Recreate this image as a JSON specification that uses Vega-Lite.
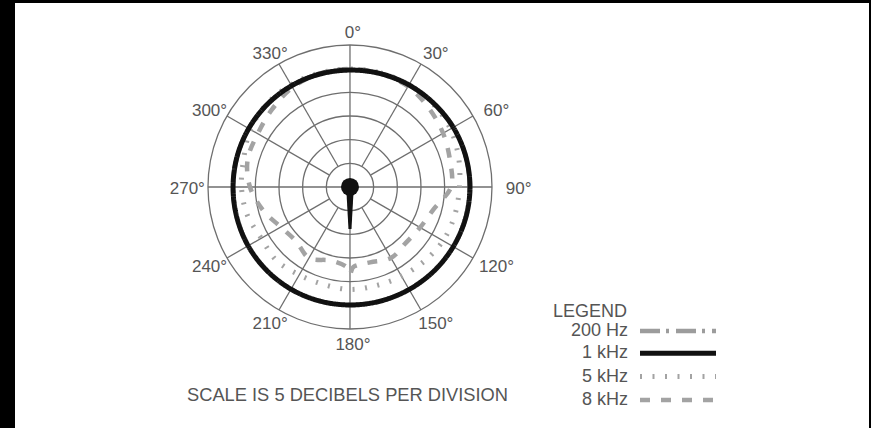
{
  "$schema": "https://vega.github.io/schema/vega-lite/v6.json",
  "width": 854,
  "height": 425,
  "autosize": {"type": "none"},
  "padding": {"left": 15, "top": 3, "right": 2, "bottom": 0},
  "background": "#000000",
  "config": {
    "view": {"fill": "#ffffff", "stroke": null},
    "font": "Liberation Sans",
    "legend": {
      "orient": "none",
      "legendX": 538,
      "legendY": 300,
      "direction": "vertical",
      "symbolType": "M-4,0H4",
      "symbolSize": 361,
      "symbolOffset": 113,
      "labelOffset": -62,
      "labelAlign": "right",
      "labelFont": "Liberation Sans",
      "labelFontSize": 18,
      "labelColor": "#555555",
      "labelLimit": 0,
      "titleFont": "Liberation Sans",
      "titleFontSize": 18,
      "titleFontWeight": "normal",
      "titleColor": "#555555",
      "titleAnchor": "start",
      "titlePadding": -2,
      "rowPadding": 1.3,
      "padding": 0,
      "offset": 0
    }
  },
  "title": {
    "text": "SCALE IS 5 DECIBELS PER DIVISION",
    "orient": "bottom",
    "anchor": "start",
    "frame": "group",
    "offset": -41,
    "dx": 172,
    "baseline": "top",
    "font": "Liberation Sans",
    "fontSize": 18.3,
    "fontWeight": "normal",
    "color": "#555555"
  },
  "datasets": {
    "rings": [{"db": -20}, {"db": -15}, {"db": -10}, {"db": -5}, {"db": 0}, {"db": 5}],
    "angles": [
      {"angle": 0, "label": "0°"}, {"angle": 30, "label": "30°"}, {"angle": 60, "label": "60°"},
      {"angle": 90, "label": "90°"}, {"angle": 120, "label": "120°"}, {"angle": 150, "label": "150°"},
      {"angle": 180, "label": "180°"}, {"angle": 210, "label": "210°"}, {"angle": 240, "label": "240°"},
      {"angle": 270, "label": "270°"}, {"angle": 300, "label": "300°"}, {"angle": 330, "label": "330°"}
    ],
    "patterns": [
      {"freq": "200 Hz", "angle": 0, "db": -0.3}, {"freq": "200 Hz", "angle": 15, "db": -0.2}, {"freq": "200 Hz", "angle": 30, "db": -0.1},
      {"freq": "200 Hz", "angle": 45, "db": 0}, {"freq": "200 Hz", "angle": 60, "db": 0.2}, {"freq": "200 Hz", "angle": 75, "db": 0.3},
      {"freq": "200 Hz", "angle": 90, "db": 0.35}, {"freq": "200 Hz", "angle": 105, "db": 0.3}, {"freq": "200 Hz", "angle": 120, "db": 0.2},
      {"freq": "200 Hz", "angle": 135, "db": 0.1}, {"freq": "200 Hz", "angle": 150, "db": 0}, {"freq": "200 Hz", "angle": 165, "db": -0.05},
      {"freq": "200 Hz", "angle": 180, "db": -0.07}, {"freq": "200 Hz", "angle": 195, "db": -0.07}, {"freq": "200 Hz", "angle": 210, "db": -0.07},
      {"freq": "200 Hz", "angle": 225, "db": -0.1}, {"freq": "200 Hz", "angle": 240, "db": -0.15}, {"freq": "200 Hz", "angle": 255, "db": -0.25},
      {"freq": "200 Hz", "angle": 270, "db": -0.3}, {"freq": "200 Hz", "angle": 285, "db": -0.3}, {"freq": "200 Hz", "angle": 300, "db": -0.3},
      {"freq": "200 Hz", "angle": 315, "db": -0.3}, {"freq": "200 Hz", "angle": 330, "db": -0.3}, {"freq": "200 Hz", "angle": 345, "db": -0.3},

      {"freq": "8 kHz", "angle": 0, "db": -0.07}, {"freq": "8 kHz", "angle": 15, "db": -0.18}, {"freq": "8 kHz", "angle": 30, "db": -0.49},
      {"freq": "8 kHz", "angle": 45, "db": -1.44}, {"freq": "8 kHz", "angle": 60, "db": -2.29}, {"freq": "8 kHz", "angle": 75, "db": -3.13},
      {"freq": "8 kHz", "angle": 90, "db": -3.66}, {"freq": "8 kHz", "angle": 105, "db": -6.73}, {"freq": "8 kHz", "angle": 120, "db": -7.89},
      {"freq": "8 kHz", "angle": 135, "db": -8.31}, {"freq": "8 kHz", "angle": 150, "db": -7.68}, {"freq": "8 kHz", "angle": 165, "db": -8.52},
      {"freq": "8 kHz", "angle": 177, "db": -8.2}, {"freq": "8 kHz", "angle": 180, "db": -6.62}, {"freq": "8 kHz", "angle": 183, "db": -8.2},
      {"freq": "8 kHz", "angle": 195, "db": -8.94}, {"freq": "8 kHz", "angle": 210, "db": -7.68}, {"freq": "8 kHz", "angle": 225, "db": -8.84},
      {"freq": "8 kHz", "angle": 240, "db": -8.1}, {"freq": "8 kHz", "angle": 255, "db": -5.99}, {"freq": "8 kHz", "angle": 270, "db": -3.87},
      {"freq": "8 kHz", "angle": 285, "db": -2.61}, {"freq": "8 kHz", "angle": 300, "db": -2.5}, {"freq": "8 kHz", "angle": 315, "db": -1.76},
      {"freq": "8 kHz", "angle": 330, "db": -0.7}, {"freq": "8 kHz", "angle": 345, "db": -0.18},

      {"freq": "5 kHz", "angle": 0, "db": -0.07}, {"freq": "5 kHz", "angle": 15, "db": -0.07}, {"freq": "5 kHz", "angle": 30, "db": -0.07},
      {"freq": "5 kHz", "angle": 45, "db": -0.18}, {"freq": "5 kHz", "angle": 60, "db": -0.49}, {"freq": "5 kHz", "angle": 75, "db": -1.23},
      {"freq": "5 kHz", "angle": 90, "db": -1.87}, {"freq": "5 kHz", "angle": 105, "db": -2.08}, {"freq": "5 kHz", "angle": 120, "db": -2.29},
      {"freq": "5 kHz", "angle": 135, "db": -2.82}, {"freq": "5 kHz", "angle": 150, "db": -3.24}, {"freq": "5 kHz", "angle": 165, "db": -3.45},
      {"freq": "5 kHz", "angle": 180, "db": -3.35}, {"freq": "5 kHz", "angle": 195, "db": -3.66}, {"freq": "5 kHz", "angle": 210, "db": -3.56},
      {"freq": "5 kHz", "angle": 225, "db": -3.03}, {"freq": "5 kHz", "angle": 240, "db": -3.35}, {"freq": "5 kHz", "angle": 255, "db": -2.5},
      {"freq": "5 kHz", "angle": 270, "db": -2.08}, {"freq": "5 kHz", "angle": 285, "db": -1.76}, {"freq": "5 kHz", "angle": 300, "db": -0.7},
      {"freq": "5 kHz", "angle": 315, "db": -0.18}, {"freq": "5 kHz", "angle": 330, "db": -0.07}, {"freq": "5 kHz", "angle": 345, "db": -0.07},

      {"freq": "1 kHz", "angle": 0, "db": -0.3}, {"freq": "1 kHz", "angle": 15, "db": -0.2}, {"freq": "1 kHz", "angle": 30, "db": -0.1},
      {"freq": "1 kHz", "angle": 45, "db": 0}, {"freq": "1 kHz", "angle": 60, "db": 0.2}, {"freq": "1 kHz", "angle": 75, "db": 0.3},
      {"freq": "1 kHz", "angle": 90, "db": 0.35}, {"freq": "1 kHz", "angle": 105, "db": 0.3}, {"freq": "1 kHz", "angle": 120, "db": 0.2},
      {"freq": "1 kHz", "angle": 135, "db": 0.1}, {"freq": "1 kHz", "angle": 150, "db": 0}, {"freq": "1 kHz", "angle": 165, "db": -0.05},
      {"freq": "1 kHz", "angle": 180, "db": -0.07}, {"freq": "1 kHz", "angle": 195, "db": -0.07}, {"freq": "1 kHz", "angle": 210, "db": -0.07},
      {"freq": "1 kHz", "angle": 225, "db": -0.1}, {"freq": "1 kHz", "angle": 240, "db": -0.15}, {"freq": "1 kHz", "angle": 255, "db": -0.25},
      {"freq": "1 kHz", "angle": 270, "db": -0.3}, {"freq": "1 kHz", "angle": 285, "db": -0.3}, {"freq": "1 kHz", "angle": 300, "db": -0.3},
      {"freq": "1 kHz", "angle": 315, "db": -0.3}, {"freq": "1 kHz", "angle": 330, "db": -0.3}, {"freq": "1 kHz", "angle": 345, "db": -0.3}
    ]
  },
  "layer": [
    {
      "data": {"name": "rings"},
      "transform": [{"calculate": "datum.db + 25", "as": "r"}],
      "mark": {"type": "point", "shape": "circle", "filled": false, "color": "#6e6e6e", "strokeWidth": 1.3, "opacity": 1},
      "encoding": {
        "x": {"datum": 0, "type": "quantitative", "scale": {"domain": [-70.77, 109.65], "nice": false, "zero": false}, "axis": null},
        "y": {"datum": 0, "type": "quantitative", "scale": {"domain": [-50.92, 38.87], "nice": false, "zero": false}, "axis": null},
        "size": {"field": "r", "type": "quantitative", "scale": {"type": "pow", "exponent": 2, "domain": [0, 30], "range": [0, 80656]}, "legend": null}
      }
    },
    {
      "data": {"name": "angles"},
      "transform": [
        {"calculate": "datum.angle % 90 == 0 ? 0 : 5", "as": "r0"},
        {"calculate": "datum.r0 * sin(datum.angle * PI / 180)", "as": "x0"},
        {"calculate": "datum.r0 * cos(datum.angle * PI / 180)", "as": "y0"},
        {"calculate": "30 * sin(datum.angle * PI / 180)", "as": "x1"},
        {"calculate": "30 * cos(datum.angle * PI / 180)", "as": "y1"}
      ],
      "mark": {"type": "rule", "color": "#6e6e6e", "strokeWidth": 1.3},
      "encoding": {
        "x": {"field": "x0", "type": "quantitative", "scale": {"domain": [-70.77, 109.65], "nice": false, "zero": false}, "axis": null},
        "y": {"field": "y0", "type": "quantitative", "scale": {"domain": [-50.92, 38.87], "nice": false, "zero": false}, "axis": null},
        "x2": {"field": "x1"},
        "y2": {"field": "y1"}
      }
    },
    {
      "data": {"name": "patterns"},
      "transform": [
        {"calculate": "datum.db + 25", "as": "r"},
        {"calculate": "datum.r * sin(datum.angle * PI / 180)", "as": "px"},
        {"calculate": "datum.r * cos(datum.angle * PI / 180)", "as": "py"}
      ],
      "mark": {"type": "line", "interpolate": "cardinal-closed", "strokeCap": "butt"},
      "encoding": {
        "x": {"field": "px", "type": "quantitative", "scale": {"domain": [-70.77, 109.65], "nice": false, "zero": false}, "axis": null},
        "y": {"field": "py", "type": "quantitative", "scale": {"domain": [-50.92, 38.87], "nice": false, "zero": false}, "axis": null},
        "order": {"field": "angle", "type": "quantitative"},
        "color": {
          "field": "freq", "type": "nominal",
          "scale": {"domain": ["200 Hz", "1 kHz", "5 kHz", "8 kHz"], "range": ["#9c9c9c", "#111111", "#a3a3a3", "#a3a3a3"]},
          "legend": {"title": "LEGEND"}
        },
        "strokeDash": {
          "field": "freq", "type": "nominal",
          "scale": {"domain": ["200 Hz", "1 kHz", "5 kHz", "8 kHz"], "range": [[20, 6, 3, 7], [1, 0], [2, 10.5], [10, 11]]}
        },
        "strokeWidth": {
          "field": "freq", "type": "nominal",
          "scale": {"type": "ordinal", "domain": ["200 Hz", "1 kHz", "5 kHz", "8 kHz"], "range": [4.5, 5, 5, 4.5]}
        }
      }
    },
    {
      "data": {"values": [{"part": "capsule"}]},
      "mark": {"type": "point", "shape": "circle", "filled": true, "color": "#111111", "size": 324, "opacity": 1},
      "encoding": {
        "x": {"datum": 0, "type": "quantitative", "scale": {"domain": [-70.77, 109.65], "nice": false, "zero": false}, "axis": null},
        "y": {"datum": 0, "type": "quantitative", "scale": {"domain": [-50.92, 38.87], "nice": false, "zero": false}, "axis": null}
      }
    },
    {
      "data": {"values": [{"part": "stem"}]},
      "mark": {"type": "point", "shape": "M-0.085,0.1L0.085,0.1L0.036,1L-0.036,1Z", "filled": true, "color": "#111111", "size": 7056, "opacity": 1},
      "encoding": {
        "x": {"datum": 0, "type": "quantitative", "scale": {"domain": [-70.77, 109.65], "nice": false, "zero": false}, "axis": null},
        "y": {"datum": 0, "type": "quantitative", "scale": {"domain": [-50.92, 38.87], "nice": false, "zero": false}, "axis": null}
      }
    },
    {
      "data": {"name": "angles"},
      "transform": [
        {"calculate": "35 * sin(datum.angle * PI / 180)", "as": "lx"},
        {"calculate": "32.9 * cos(datum.angle * PI / 180)", "as": "ly"}
      ],
      "mark": {"type": "text", "font": "Liberation Sans", "fontSize": 17, "color": "#555555", "align": "center", "baseline": "middle", "dx": 3, "dy": 2},
      "encoding": {
        "x": {"field": "lx", "type": "quantitative", "scale": {"domain": [-70.77, 109.65], "nice": false, "zero": false}, "axis": null},
        "y": {"field": "ly", "type": "quantitative", "scale": {"domain": [-50.92, 38.87], "nice": false, "zero": false}, "axis": null},
        "text": {"field": "label"}
      }
    }
  ]
}
